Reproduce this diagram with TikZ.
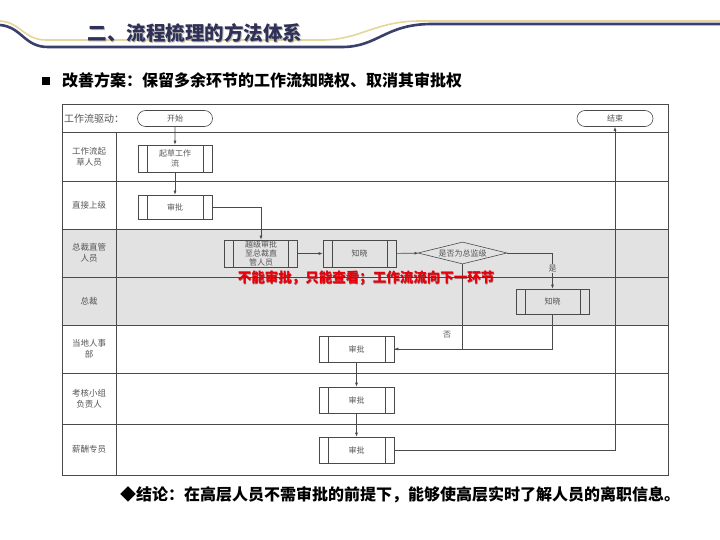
\documentclass[tikz,border=0pt]{standalone}
\usepackage{fontspec}
\newfontfamily\cjk{Noto Sans CJK SC}
\usetikzlibrary{shapes.geometric,shapes.misc,arrows.meta}
\definecolor{navy}{HTML}{3B3F6B}
\definecolor{gold}{HTML}{E6D69A}
\definecolor{lanegray}{HTML}{E2E2E2}
\definecolor{linegray}{HTML}{4A4A4A}
\definecolor{txtgray}{HTML}{555555}
\definecolor{redtxt}{HTML}{E8000B}
\tikzset{
  proc/.style={draw=linegray, line width=0.6pt, rectangle, inner sep=0pt, font=\cjk\fontsize{8}{9.5}\selectfont, text=txtgray, align=center,
    path picture={\draw[linegray, line width=0.6pt] ([xshift=9pt]path picture bounding box.south west) -- ([xshift=9pt]path picture bounding box.north west);
                  \draw[linegray, line width=0.6pt] ([xshift=-9pt]path picture bounding box.south east) -- ([xshift=-9pt]path picture bounding box.north east);}},
  term/.style={draw=linegray, line width=0.6pt, rounded rectangle, inner sep=0pt, font=\cjk\fontsize{8}{9.5}\selectfont, text=txtgray},
  decis/.style={draw=linegray, line width=0.6pt, diamond, inner sep=0pt, font=\cjk\fontsize{8}{9.5}\selectfont, text=txtgray},
  lanelbl/.style={font=\cjk\fontsize{8.5}{11}\selectfont, text=txtgray, align=center},
  conn/.style={draw=linegray, line width=0.6pt},
  arr/.style={conn, -{Latex[length=4pt,width=3pt]}},
  grid/.style={draw=linegray, line width=0.7pt},
  redfont/.style={font=\cjk\bfseries\fontsize{13.5}{15}\selectfont, inner sep=0pt}
}
\begin{document}
\begin{tikzpicture}[x=1pt,y=-1pt]
\useasboundingbox (0,0) rectangle (720,540);
\fill[white] (0,0) rectangle (720,540);
% header decoration
\draw[gold, line width=1.6pt] (0,21) .. controls (20,22) and (24,40) .. (46,40) -- (322,40) .. controls (360,40) and (375,21) .. (420,21) -- (720,21);
\draw[navy, line width=2.6pt] (0,25) .. controls (22,27) and (24,47) .. (48,47) -- (342,47) .. controls (378,47) and (385,24) .. (432,24) -- (720,24);
\node[font=\cjk\bfseries\fontsize{19.5}{22}\selectfont, text=black!30, anchor=center] at (196,34) {二、流程梳理的方法体系};
\node[font=\cjk\bfseries\fontsize{19.5}{22}\selectfont, text=navy!80!black, anchor=center] (title) at (195,33) {二、流程梳理的方法体系};
% subtitle
\fill[black] (42,77) rectangle (50,85);
\node[font=\cjk\bfseries\fontsize{16}{18}\selectfont, anchor=west, inner sep=0pt] (sub) at (62,80.5) {改善方案：保留多余环节的工作流知晓权、取消其审批权};
% swimlane frame
\fill[lanegray] (62,229) rectangle (668,325);
\draw[grid] (62,104) rectangle (668,475);
\foreach \yy in {132,181,229,277,325,373,424} \draw[grid] (62,\yy) -- (668,\yy);
\draw[grid] (116,132) -- (116,475);
% lane labels
\node[font=\cjk\fontsize{10}{12}\selectfont, text=txtgray, anchor=west, inner sep=0pt] (drv) at (64,118.5) {工作流驱动：};
\node[lanelbl] (l1) at (89,156.5) {工作流起\\草人员};
\node[lanelbl] (l2) at (89,205) {直接上级};
\node[lanelbl] (l3) at (89,253) {总裁直管\\人员};
\node[lanelbl] (l4) at (89,301) {总裁};
\node[lanelbl] (l5) at (89,349) {当地人事\\部};
\node[lanelbl] (l6) at (89,398.5) {考核小组\\负责人};
\node[lanelbl] (l7) at (89,449.5) {薪酬专员};
% nodes
\node[term, minimum width=75pt, minimum height=16pt] (start) at (175,118.5) {开始};
\node[term, minimum width=76pt, minimum height=16pt] (endn) at (615,118.5) {结束};
\node[proc, minimum width=74pt, minimum height=27pt] (draft) at (175,158.5) {起草工作\\流};
\node[proc, minimum width=74pt, minimum height=24pt] (sup) at (175,207) {审批};
\node[proc, minimum width=73pt, minimum height=27pt, font=\cjk\fontsize{8}{8.6}\selectfont] (skip) at (261,253.5) {越级审批\\至总裁直\\管人员};
\node[proc, minimum width=73pt, minimum height=27pt] (know1) at (359.5,253.5) {知晓};
\node[decis, minimum width=89pt, minimum height=22pt] (dec) at (462.5,253) {\makebox[0pt]{是否为总监级}};
\node[proc, minimum width=73pt, minimum height=25pt] (know2) at (552.5,301.5) {知晓};
\node[proc, minimum width=75pt, minimum height=26pt] (hr) at (356.5,349) {审批};
\node[proc, minimum width=75pt, minimum height=26pt] (chk) at (356.5,400) {审批};
\node[proc, minimum width=75pt, minimum height=26pt] (pay) at (356.5,450) {审批};
% connectors
\draw[arr] (start) -- (draft);
\draw[arr] (draft) -- (sup);
\draw[arr] (sup.east) -| (skip.north);
\draw[arr] (skip) -- (know1);
\draw[arr] (know1) -- (dec);
\draw[arr] (dec.east) -| node[pos=0.72, fill=lanegray, inner sep=1pt, font=\cjk\fontsize{8}{9}\selectfont, text=txtgray] (yes) {是} (know2.north);
\draw[arr] (dec.south) |- (hr.east);
\draw[conn] (know2.south) |- (hr.east);
\node[font=\cjk\fontsize{8}{9}\selectfont, text=txtgray] (no) at (447,335) {否};
\draw[arr] (hr) -- (chk);
\draw[arr] (chk) -- (pay);
\draw[arr] (pay.east) -| (endn.south);
% red annotation
\node[redfont, text=red!40!black, opacity=0.6] at (366.6,278.6) {不能审批，只能查看；工作流流向下一环节};
\node[redfont, text=redtxt] (note) at (366,278) {不能审批，只能查看；工作流流向下一环节};
% conclusion
\node[font=\cjk\bfseries\fontsize{16}{18}\selectfont, anchor=west, inner sep=0pt] (concl) at (120,495) {◆结论：在高层人员不需审批的前提下，能够使高层实时了解人员的离职信息。};
\end{tikzpicture}
\end{document}
